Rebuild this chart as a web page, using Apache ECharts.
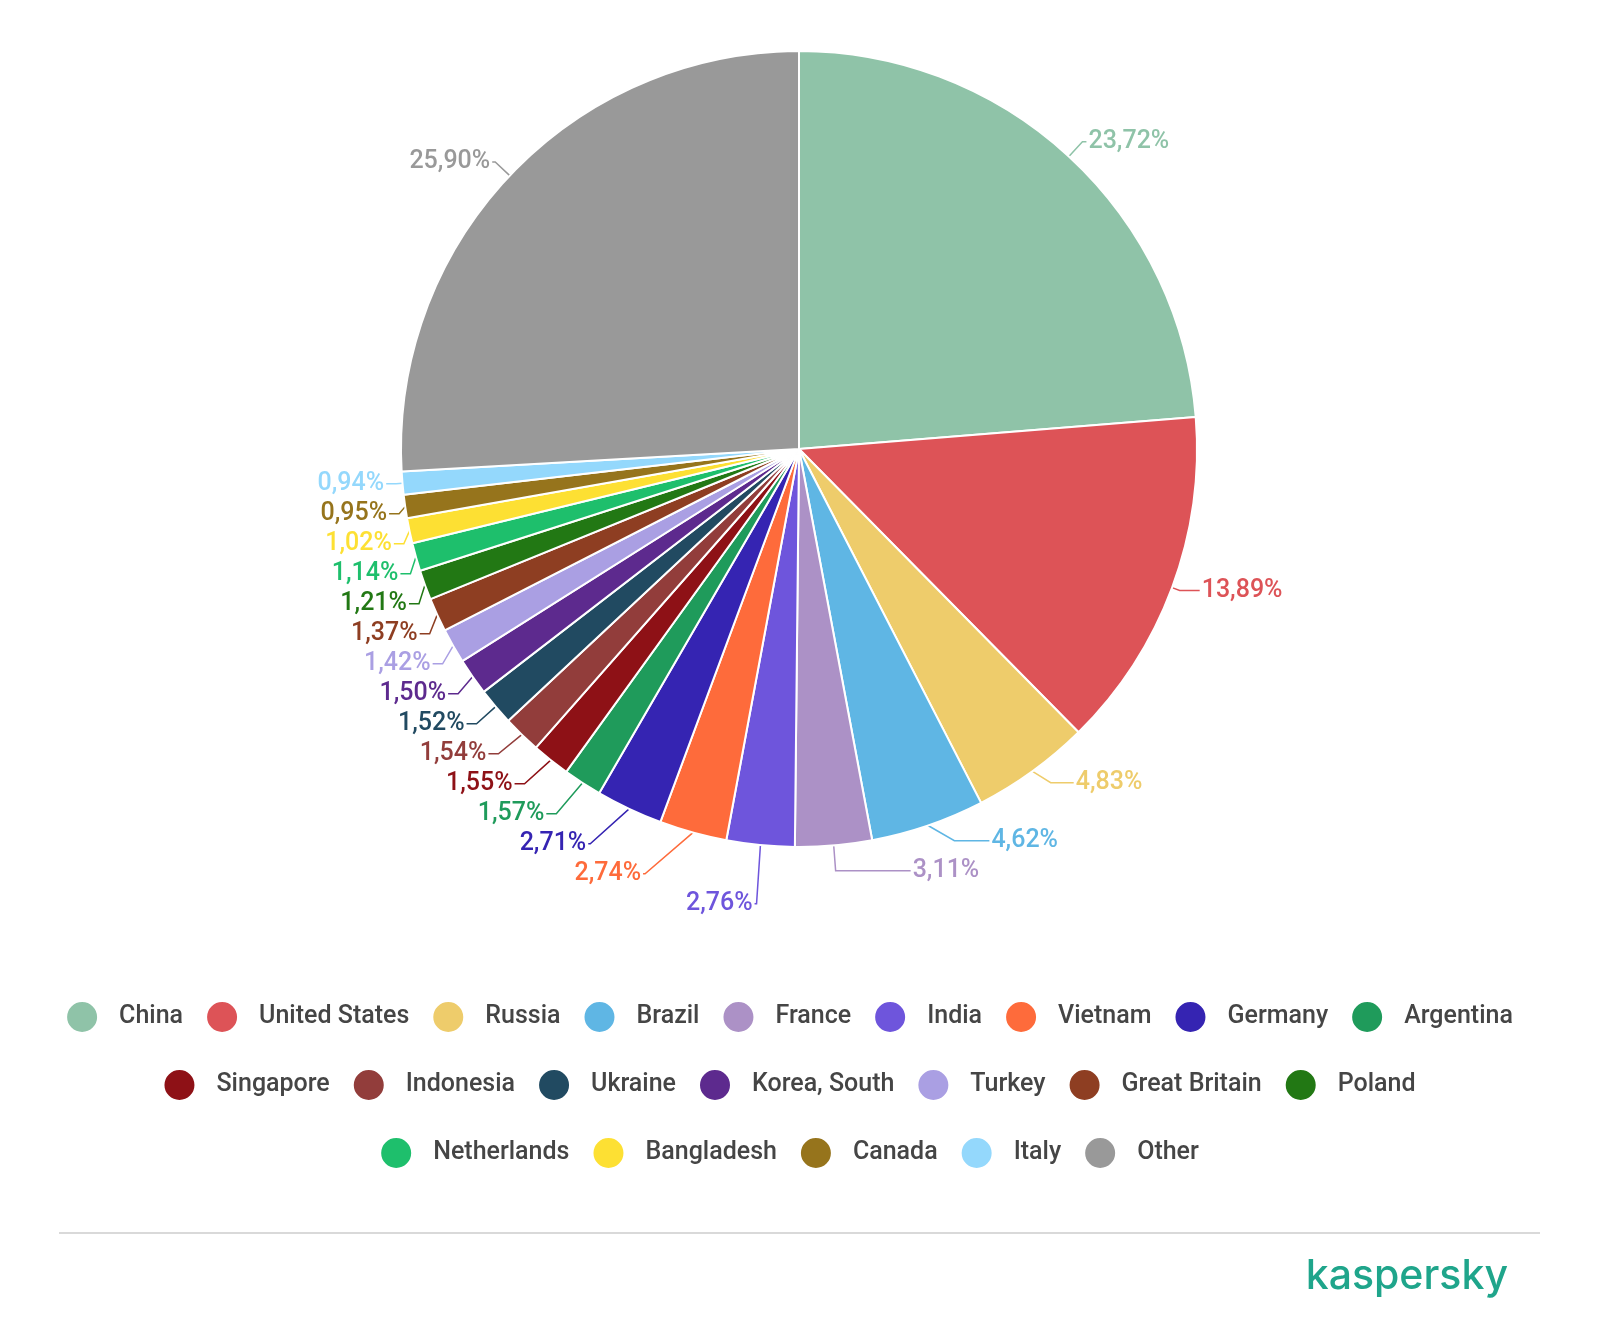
<!DOCTYPE html>
<html>
<head>
<meta charset="utf-8">
<script src="https://cdn.jsdelivr.net/npm/echarts@6/dist/echarts.min.js"></script>
<style>
  html, body { margin: 0; padding: 0; background: #fff; }
  #chart { width: 1578px; height: 1328px; }
</style>
</head>
<body>
<div id="chart"></div>
<script>
// countries, clockwise from 12 o'clock
var countries = ['China', 'United States', 'Russia', 'Brazil', 'France', 'India', 'Vietnam', 'Germany', 'Argentina',
    'Singapore', 'Indonesia', 'Ukraine', 'Korea, South', 'Turkey', 'Great Britain', 'Poland',
    'Netherlands', 'Bangladesh', 'Canada', 'Italy', 'Other'];
var shares = [23.72, 13.89, 4.83, 4.62, 3.11, 2.76, 2.74, 2.71, 1.57,
    1.55, 1.54, 1.52, 1.50, 1.42, 1.37, 1.21,
    1.14, 1.02, 0.95, 0.94, 25.90];
var colors = ['#8fc3a8', '#dd5357', '#eecc6b', '#5fb6e4', '#ac91c6', '#6e55dc', '#fe6b3b', '#3524b2', '#1f9b5b',
    '#8e1116', '#923d3b', '#214a61', '#5d2a8e', '#aa9fe3', '#8e3e22', '#227814',
    '#1ebf6c', '#fde033', '#96741c', '#94d8fc', '#999999'];
// legend rows as in the original
var legendRows = [countries.slice(0, 9), countries.slice(9, 16), countries.slice(16)];
// leader line lengths [length, length2] where they differ from the default
var lineLen = { 'China': [20, 4], 'United States': [8, 20], 'Russia': [14, 23], 'Brazil': [16, 35],
    'France': [22, 75], 'India': [40, 2], 'Vietnam': [24, 2], 'Germany': [20, 2], 'Other': [20, 3] };

var chart = echarts.init(document.getElementById('chart'));

var pieData = countries.map(function (name, i) {
    var l = lineLen[name] || [8, 10];
    return {
        name: name,
        value: shares[i],
        itemStyle: { color: colors[i] },
        label: { color: colors[i] },
        labelLine: { length: l[0], length2: l[1], lineStyle: { color: colors[i] } }
    };
});

var legends = legendRows.map(function (row, r) {
    return {
        left: 'center',
        top: 995 + r * 68,
        itemWidth: 32,
        itemHeight: 32,
        itemGap: 22,
        icon: 'circle',
        textStyle: {
            fontFamily: 'Roboto',
            fontSize: 25,
            fontWeight: 500,
            color: '#454545',
            padding: [0, 0, 0, 16]
        },
        data: row
    };
});

var option = {
    animation: false,
    textStyle: { fontFamily: 'Roboto' },
    legend: legends,
    series: [
        {
            name: 'Share',
            type: 'pie',
            center: [799, 449],
            radius: [0, 398],
            startAngle: 90,
            clockwise: true,
            avoidLabelOverlap: true,
            itemStyle: {
                borderColor: '#fff',
                borderWidth: 2
            },
            label: {
                show: true,
                fontFamily: 'Roboto',
                fontSize: 25,
                fontWeight: 500,
                lineHeight: 28,
                distanceToLabelLine: 2,
                formatter: function (p) {
                    return p.value.toFixed(2).replace('.', ',') + '%';
                }
            },
            labelLine: {
                show: true,
                lineStyle: { width: 1.5 }
            },
            data: pieData
        }
    ],
    graphic: [
        {
            type: 'line',
            shape: { x1: 59, y1: 1233, x2: 1540, y2: 1233 },
            style: { stroke: '#d9d9d9', lineWidth: 2 }
        },
        {
            type: 'text',
            right: 70,
            top: 1256,
            style: {
                text: 'kaspersky',
                font: '500 41px Inter',
                fill: '#1fa58b'
            }
        }
    ]
};

chart.setOption(option);
</script>
</body>
</html>
